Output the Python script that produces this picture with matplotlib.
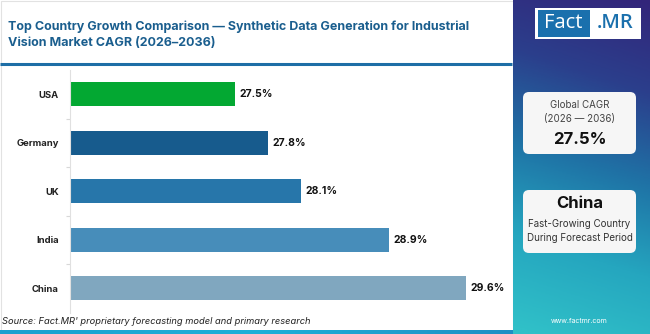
import numpy as np
import matplotlib
matplotlib.use("Agg")
import matplotlib.pyplot as plt
from matplotlib.patches import Rectangle, FancyBboxPatch
from matplotlib.colors import LinearSegmentedColormap

countries = ["USA", "Germany", "UK", "India", "China"]
cagr = [27.5, 27.8, 28.1, 28.9, 29.6]
bar_colors = ["#03a832", "#175b8d", "#2776aa", "#478dba", "#80a7bf"]
title = "Top Country Growth Comparison \u2014 Synthetic Data Generation for Industrial\nVision Market CAGR (2026\u20132036)"
source = "Source: Fact.MR' proprietary forecasting model and primary research"
global_cagr = "27.5%"
global_label = "Global CAGR\n(2026 \u2014 2036)"
lead_country = "China"
lead_text = "Fast-Growing Country\nDuring Forecast Period"

FONT = ["Inter", "DejaVu Sans"]
plt.rcParams['font.family'] = FONT

W, H = 650, 334
fig = plt.figure(figsize=(W / 100, H / 100), dpi=100)
fig.patch.set_facecolor("white")

ov = fig.add_axes([0, 0, 1, 1], zorder=0)
ov.set_xlim(0, W)
ov.set_ylim(H, 0)
ov.axis("off")

ov.add_patch(Rectangle((0.5, 0.5), 512, 332, fill=False, edgecolor="#e2e2e2", lw=0.8))
ov.plot([0, 512], [64, 64], color="#1d6ea6", lw=2.2, solid_capstyle="butt")
grad_b = np.linspace(0, 1, 256).reshape(1, -1)
cmap_b = LinearSegmentedColormap.from_list("b", ["#1aa0cf", "#1fb0d8", "#1c8fc4"])
ov.imshow(grad_b, extent=(0, 513, 334, 330.5), cmap=cmap_b, aspect="auto", zorder=1)

gy = np.linspace(0, 1, 256).reshape(-1, 1)
gx = np.linspace(0, 1, 64).reshape(1, -1)
g = np.clip(gy * 0.9 + (1 - gx) * 0.12, 0, 1)
cmap_p = LinearSegmentedColormap.from_list("p", ["#33257a", "#2b3f8c", "#1f73a6", "#25a6bf", "#30c0c8"])
ov.imshow(g, extent=(513, 650, 334, 0), cmap=cmap_p, aspect="auto", zorder=1)

# logo
ov.add_patch(Rectangle((535, 8), 106, 31, facecolor="white", edgecolor="none", zorder=2))
ov.add_patch(Rectangle((537.5, 10), 52, 26.5, facecolor="#1a70ad", edgecolor="none", zorder=3))
ov.text(563.5, 23.5, "Fact", color="white", fontsize=14.5, ha="center", va="center",
        family=["Open Sans", "DejaVu Sans"], zorder=4)
ov.text(615.5, 23.5, ".MR", color="#1a70ad", fontsize=14.5, ha="center", va="center",
        fontweight="semibold", family=["Open Sans", "DejaVu Sans"], zorder=4)

for (y0, y1) in [(92, 154), (190, 253)]:
    ov.add_patch(FancyBboxPatch((523, y0), 113, y1 - y0, boxstyle="round,pad=0,rounding_size=6",
                                facecolor="#f6f6f6", edgecolor="none", zorder=2))
cx = 579.5
ov.text(cx, 112, global_label, ha="center", va="center", fontsize=7, color="#444444",
        linespacing=1.5, zorder=3)
ov.text(cx, 140, global_cagr, ha="center", va="center", fontsize=12, fontweight="bold",
        color="#111111", zorder=3)
ov.text(cx, 203, lead_country, ha="center", va="center", fontsize=12, fontweight="bold",
        color="#111111", zorder=3)
ov.text(cx, 231, lead_text, ha="center", va="center", fontsize=7, color="#333333",
        linespacing=1.5, zorder=3)
ov.text(cx, 321, "www.factmr.com", ha="center", va="center", fontsize=5, color="white", zorder=3)

ov.text(8, 35, title, ha="left", va="center", fontsize=9, fontweight="bold",
        color="#1a5e8e", linespacing=1.5, zorder=3)
ov.text(2, 322, source, ha="left", va="center", fontsize=6.7, style="italic",
        color="#222222", zorder=3)

ax = fig.add_axes([70 / W, 1 - 312.5 / H, (505 - 70) / W, (312.5 - 70) / H], zorder=2)
ax.patch.set_alpha(0)
y = np.arange(len(countries))
ax.barh(y, [v - 26 for v in cagr], left=26, height=0.5, color=bar_colors, edgecolor="none")
ax.set_xlim(26, 26 + 435 / 110)
ax.set_ylim(len(countries) - 0.5, -0.5)
for yi, v in zip(y, cagr):
    ax.text(v + 0.045, yi, f"{v}%", va="center", ha="left", fontsize=7.5,
            fontweight="bold", color="#111111")
ax.set_yticks(y)
ax.set_yticklabels(countries, fontsize=6.8, fontweight="bold", color="#222222")
ax.set_yticks(np.arange(len(countries) - 1) + 0.5, minor=True)
ax.tick_params(axis="y", which="major", length=0, pad=8)
ax.tick_params(axis="y", which="minor", length=3, color="#d8d8d8", width=0.8)
ax.set_xticks([])
for s in ["top", "right", "bottom"]:
    ax.spines[s].set_visible(False)
ax.spines["left"].set_color("#e0e0e0")
ax.spines["left"].set_linewidth(0.8)

fig.savefig("out.png", dpi=100)
